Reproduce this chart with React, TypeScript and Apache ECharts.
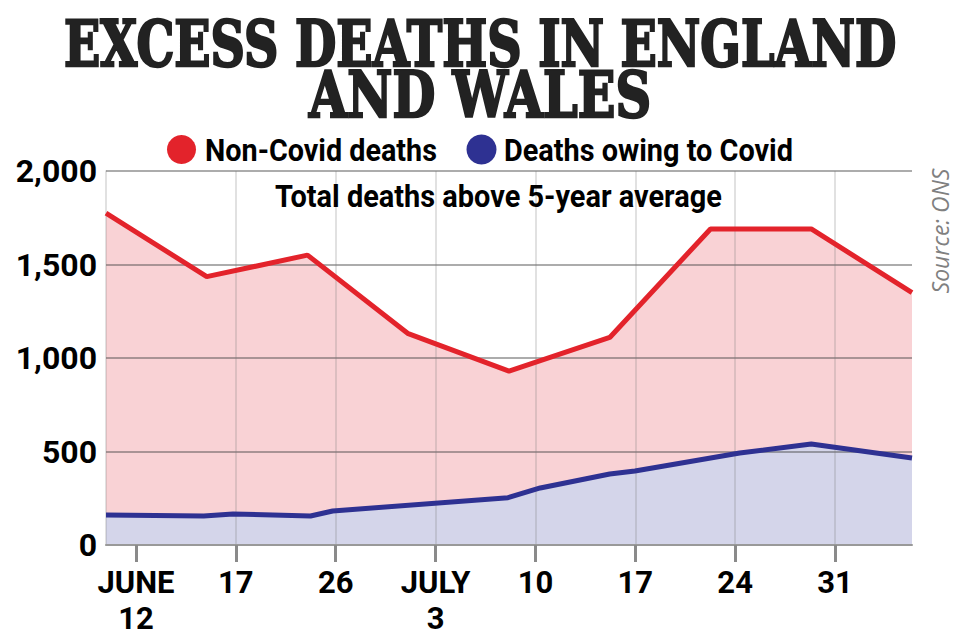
import React, { useEffect, useRef } from "react";
import * as echarts from "echarts";

// Weekly positions 0..8 (data points)
const nonCovidX = [0, 1, 2, 3, 4, 5, 6, 7, 8];
const nonCovidTotal = [1775, 1435, 1550, 1130, 930, 1110, 1690, 1690, 1350];

const covidX = [0, 0.97, 1.26, 2.03, 2.25, 3.99, 4.31, 5.0, 5.25, 6.29, 7.0, 8];
const covidValues = [160, 155, 166, 155, 182, 253, 305, 380, 396, 492, 540, 465];

const xTickLabels = ["JUNE\n12", "17", "26", "JULY\n3", "10", "17", "24", "31"];
const yTicks = { min: 0, max: 2000, interval: 500 };

const seriesNames = ["Non-Covid deaths", "Deaths owing to Covid"];
const RED = "#e3232b";
const BLUE = "#2e3192";

const TITLE_FONT = "bold 63px 'DejaVu Serif'";
const LABEL_FONT = "bold 32px Roboto";

function measure(text: string, font: string): number {
  const c = document.createElement("canvas").getContext("2d");
  if (!c) return 1;
  c.font = font;
  return c.measureText(text).width || 1;
}

export default function App() {
  const ref = useRef<HTMLDivElement>(null);
  useEffect(() => {
    if (!ref.current) return;
    const chart = echarts.init(ref.current, null, { renderer: "svg" });
    const redData = nonCovidX.map((x, i) => [x, nonCovidTotal[i]]);
    const blueData = covidX.map((x, i) => [x, covidValues[i]]);

    const fitText = (text: string, font: string, left: number, width: number, y: number, fill: string, strokeW = 0) => ({
      type: "text",
      x: left,
      y,
      scaleX: width / measure(text, font),
      z: 10,
      style: {
        text,
        font,
        fill,
        stroke: strokeW ? fill : undefined,
        lineWidth: strokeW,
        textAlign: "left",
        textVerticalAlign: "middle",
      },
    });

    chart.setOption({
      animation: false,
      backgroundColor: "#ffffff",
      graphic: [
        fitText("EXCESS DEATHS IN ENGLAND", TITLE_FONT, 64, 832, 44, "#222", 2.5),
        fitText("AND WALES", TITLE_FONT, 309, 342, 95, "#222", 2.5),
        fitText("Total deaths above 5-year average", LABEL_FONT, 275, 447, 196, "#000"),
        // legend
        { type: "circle", shape: { cx: 181.5, cy: 149.5, r: 14.5 }, style: { fill: RED } },
        fitText(seriesNames[0], LABEL_FONT, 205, 232, 150, "#000"),
        { type: "circle", shape: { cx: 481.5, cy: 149.5, r: 15 }, style: { fill: BLUE } },
        fitText(seriesNames[1], LABEL_FONT, 504, 289, 150, "#000"),
        {
          type: "text",
          x: 940,
          y: 231,
          rotation: Math.PI / 2,
          style: {
            text: "Source: ONS",
            font: "italic 23px 'Open Sans'",
            fill: "#808080",
            textAlign: "center",
            textVerticalAlign: "middle",
          },
        },
      ],
      grid: [
        { left: 106, right: 48, top: 171, bottom: 95 },
        { left: 136, right: 125, top: 171, bottom: 95 },
      ],
      xAxis: [
        {
          type: "value",
          gridIndex: 0,
          min: 0,
          max: 8,
          z: 3,
          axisLine: { show: true, lineStyle: { color: "#999", width: 2 } },
          axisTick: { show: false },
          axisLabel: { show: false },
          splitLine: { show: false },
        },
        {
          type: "category",
          gridIndex: 1,
          boundaryGap: false,
          data: xTickLabels.map((_, i) => String(i)),
          z: 3,
          axisLine: { show: false },
          axisTick: { show: true, length: 17, lineStyle: { color: "#8a8a8a", width: 3 } },
          axisLabel: {
            interval: 0,
            formatter: (_v: string, i: number) => xTickLabels[i],
            fontFamily: "Roboto",
            fontWeight: "bold",
            fontSize: 31,
            lineHeight: 36,
            color: "#000",
            margin: 19,
          },
          splitLine: {
            show: true,
            interval: (i: number) => i > 0,
            lineStyle: { color: "rgba(120,120,120,0.3)", width: 1.5 },
          },
        },
      ],
      yAxis: [
        {
          type: "value",
          gridIndex: 0,
          min: yTicks.min,
          max: yTicks.max,
          interval: yTicks.interval,
          z: 3,
          axisLine: { show: true, lineStyle: { color: "rgba(120,120,120,0.3)", width: 1.5 } },
          axisTick: { show: false },
          axisLabel: {
            formatter: (v: number) => v.toLocaleString("en-US"),
            fontFamily: "Roboto",
            fontWeight: "bold",
            fontSize: 32,
            color: "#000",
            margin: 9,
          },
          splitLine: { show: true, lineStyle: { color: "rgba(70,70,70,0.45)", width: 2 } },
        },
        {
          type: "value",
          gridIndex: 1,
          min: 0,
          max: 1,
          show: false,
        },
      ],
      series: [
        {
          name: "nc-area",
          type: "line",
          xAxisIndex: 0,
          yAxisIndex: 0,
          data: redData,
          z: 1,
          showSymbol: false,
          lineStyle: { width: 0 },
          areaStyle: { color: "#f9d2d5", opacity: 1 },
          silent: true,
        },
        {
          name: "c-area",
          type: "line",
          xAxisIndex: 0,
          yAxisIndex: 0,
          data: blueData,
          z: 1,
          showSymbol: false,
          lineStyle: { width: 0 },
          areaStyle: { color: "#d4d5ea", opacity: 1 },
          silent: true,
        },
        {
          name: seriesNames[0],
          type: "line",
          xAxisIndex: 0,
          yAxisIndex: 0,
          data: redData,
          z: 5,
          showSymbol: false,
          itemStyle: { color: RED },
          lineStyle: { color: RED, width: 5 },
        },
        {
          name: seriesNames[1],
          type: "line",
          xAxisIndex: 0,
          yAxisIndex: 0,
          data: blueData,
          z: 5,
          showSymbol: false,
          itemStyle: { color: BLUE },
          lineStyle: { color: BLUE, width: 5 },
        },
      ],
    });
    return () => chart.dispose();
  }, []);
  return <div ref={ref} style={{ width: 960, height: 640, position: "absolute", left: 0, top: 0 }} />;
}
